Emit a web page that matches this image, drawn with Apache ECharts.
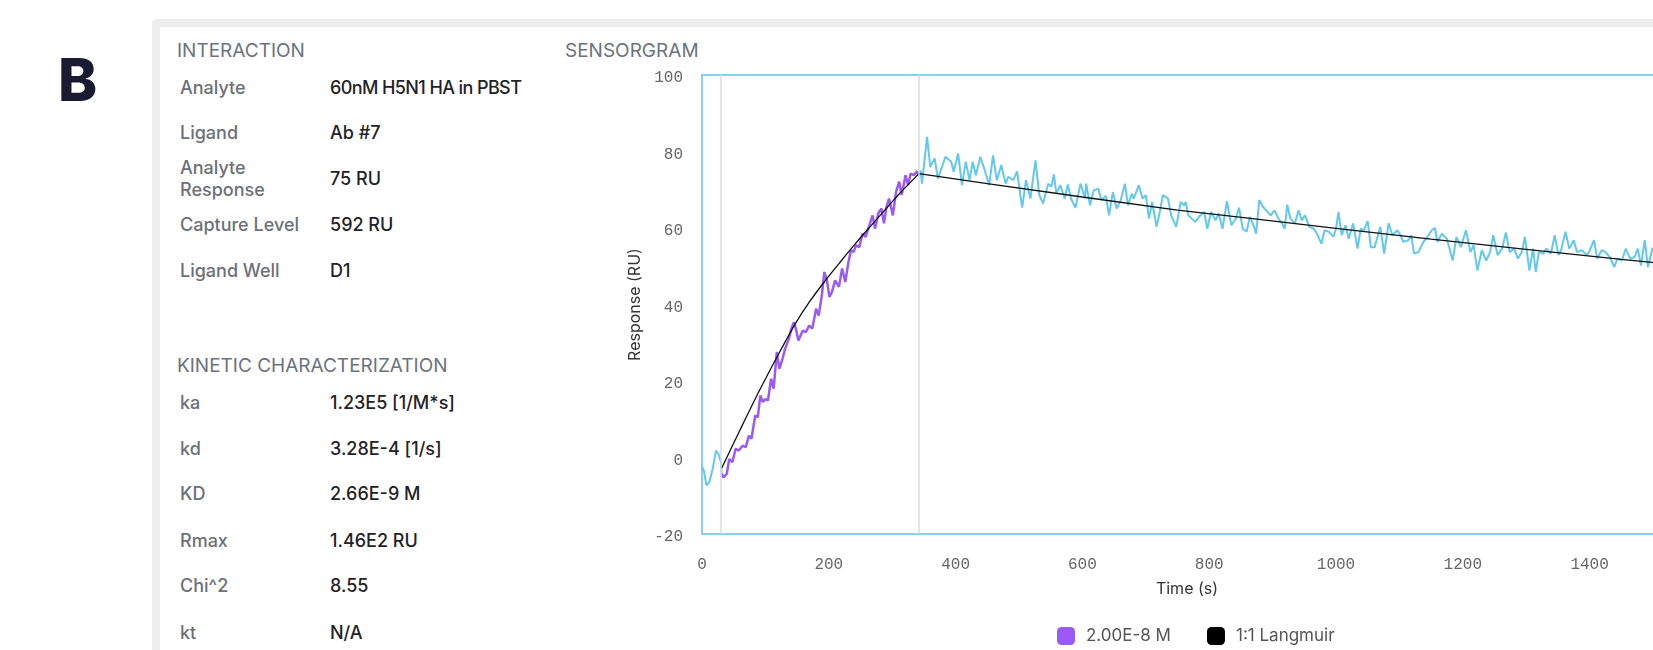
<!DOCTYPE html>
<html>
<head>
<meta charset="utf-8">
<script src="https://cdn.jsdelivr.net/npm/echarts@6/dist/echarts.min.js"></script>
<style>
  html, body { margin: 0; padding: 0; overflow: hidden; background: #ffffff; }
  body { width: 1653px; height: 650px; position: relative; font-family: Inter, "Noto Sans", sans-serif; }
  .panel-letter { position: absolute; left: 58px; top: 40px; font-size: 59px; font-weight: 800; color: #1b1a33; line-height: 80px; }
  .card { position: absolute; left: 152px; top: 19px; width: 1700px; height: 800px; box-sizing: border-box; border: 8px solid #eeeeee; border-radius: 5px; }
  .head { position: absolute; font-size: 19px; color: #6b7280; line-height: 23px; white-space: nowrap; }
  .lbl { position: absolute; left: 180px; font-size: 18px; font-weight: 500; color: #6b7079; line-height: 22px; white-space: nowrap; }
  .val { position: absolute; left: 330px; font-size: 18px; font-weight: 500; color: #1f2328; line-height: 22px; white-space: nowrap; }
  .val.tight { letter-spacing: -0.6px; }
  #chart { position: absolute; left: 0; top: 0; width: 1800px; height: 650px; }
</style>
</head>
<body>
<div class="panel-letter">B</div>
<div class="card"></div>
<div id="panel"></div>
<div id="chart"></div>
<script>
/* ------------------------------------------------------------------ */
/*  Data                                                               */
/* ------------------------------------------------------------------ */

/** Interaction table rows [label, value] */
const interactionRows = [
  ['Analyte', '60nM H5N1 HA in PBST'],
  ['Ligand', 'Ab #7'],
  ['Analyte<br>Response', '75 RU'],
  ['Capture Level', '592 RU'],
  ['Ligand Well', 'D1']
];
const interactionRowY = [88, 133, 179, 225, 271];

/** Kinetic characterization rows [label, value] */
const kineticRows = [
  ['ka', '1.23E5 [1/M*s]'],
  ['kd', '3.28E-4 [1/s]'],
  ['KD', '2.66E-9 M'],
  ['Rmax', '1.46E2 RU'],
  ['Chi^2', '8.55'],
  ['kt', 'N/A']
];
const kineticRowY = [403, 449, 494, 541, 586, 633];

/** Phase boundaries (s) */
const phaseMarks = [30, 342];

/** Baseline before injection [time, RU] */
const baselineTrace = [
  [0, -2.4], [3, -3.5], [7, -7.3], [11.6, -6.4], [16.8, -3], [22, 1.8], [26, 0.9], [30, -1.2], [31, -4.3]
];

/** Association phase, 2.00E-8 M [time, RU] */
const associationTrace = [
  [31, -4.3], [34, -5.2], [39, -4.3], [43, -0.4], [48, -1.2], [53, 2.3], [58, 1.8], [64, 3.1], [69, 2.7],
  [74, 5.7], [78, 4.9], [84, 11], [88, 10.5], [92, 16.2], [96, 14.5], [100, 15.3], [104, 14.9], [109, 20.6],
  [113, 18], [118, 27.6], [122, 23.2], [127, 25.8], [131, 28.4], [137, 31], [141, 33.7], [145, 35.4],
  [148, 33.7], [152, 30.6], [159, 33.2], [164, 32.8], [169, 34.5], [174, 33.7], [180, 38.9], [184, 37.1],
  [189, 42.4], [193, 48.5], [197, 46.3], [201, 42], [205, 43.3], [210, 46.3], [216, 44.6], [221, 49.4],
  [226, 45.9], [231, 51.1], [235, 54.2], [239, 53.7], [243, 55.5], [248, 55], [253, 58.5], [258, 57.7],
  [264, 60.7], [269, 63.3], [273, 59.8], [278, 63.8], [283, 65.1], [287, 61.2], [291, 65.5], [295, 67.7],
  [301, 63.3], [306, 69.4], [311, 72.1], [315, 68.6], [321, 73.8], [325, 71.2], [329, 74.2], [334, 73.8],
  [339, 74.8], [342, 73.8]
];

/** Dissociation phase [time, RU] */
const dissociationTrace = [
  [342, 73.8], [345, 75], [347, 71.6], [355, 83.8], [360, 76], [367, 78.2], [372, 72.9], [384, 78.6],
  [393, 77.3], [397, 74.7], [404, 79.5], [410, 71.2], [416, 77.3], [422, 72.5], [427, 77.3], [432, 73.8],
  [439, 78.6], [446, 75.1], [453, 71.2], [459, 79], [465, 72.5], [472, 76.4], [479, 71.6], [483, 73.4],
  [491, 72.5], [497, 74.8], [505, 65.3], [511, 72.5], [518, 67.7], [526, 77.7], [532, 68.6], [538, 66.4],
  [546, 71.6], [551, 70.8], [555, 74], [559, 69], [565, 71.2], [572, 67.7], [577, 71.4], [582, 67.7],
  [589, 65.3], [597, 71.6], [604, 67.7], [606, 71.6], [612, 65.9], [618, 69.9], [625, 70.3], [630, 67.3],
  [637, 68.4], [642, 63.3], [648, 69.4], [654, 65.1], [660, 67], [667, 71.6], [672, 65.9], [678, 69],
  [681, 67.7], [689, 71.2], [695, 67.7], [700, 68.6], [705, 62.5], [710, 66.8], [717, 60.3], [722, 64.2],
  [727, 68.6], [735, 67.7], [740, 63.3], [748, 60.3], [755, 66.8], [760, 65.9], [763, 66.8], [767, 63.3],
  [778, 61.6], [786, 63.3], [792, 64.2], [797, 59.8], [803, 64.2], [810, 62], [815, 63.8], [821, 59.8],
  [828, 67], [835, 60.7], [842, 62.5], [847, 65.3], [853, 59.8], [859, 59], [864, 62.9], [870, 60.7],
  [874, 58.5], [879, 67.3], [885, 65.5], [892, 64.2], [897, 63.3], [903, 64.6], [909, 62.5], [915, 61.2],
  [919, 59.8], [923, 66.1], [928, 62.5], [935, 61.2], [941, 64.6], [946, 62], [951, 63.3], [958, 60.3],
  [965, 59.8], [970, 58.5], [977, 55.9], [982, 59.4], [989, 59], [996, 57.7], [1000, 59.8], [1004, 64.2],
  [1009, 58.1], [1015, 60.7], [1020, 57.2], [1027, 61.2], [1034, 54.6], [1039, 59.8], [1044, 59.4],
  [1050, 61.8], [1055, 55], [1061, 55], [1070, 60.3], [1076, 53.3], [1083, 61.2], [1089, 58.1],
  [1097, 59.4], [1103, 57.7], [1106, 56.4], [1114, 56.8], [1119, 58.1], [1123, 53.3], [1130, 53.7],
  [1138, 56.4], [1146, 58.1], [1151, 59.4], [1156, 60], [1160, 56.4], [1167, 58.5], [1175, 57.2],
  [1184, 51.5], [1190, 57.7], [1197, 55], [1205, 59.4], [1212, 53.7], [1217, 55.5], [1223, 48.9],
  [1230, 54.2], [1237, 51.5], [1243, 53.7], [1248, 58.1], [1255, 52.9], [1262, 54.6], [1268, 58.8],
  [1274, 53.7], [1281, 54.6], [1287, 52], [1293, 53.7], [1298, 57.7], [1305, 48.9], [1311, 54.6],
  [1315, 48.5], [1320, 53.7], [1327, 53.3], [1332, 54.6], [1339, 53.3], [1345, 58.1], [1351, 52.9],
  [1355, 54.2], [1362, 59], [1368, 54.6], [1375, 56.8], [1380, 53.7], [1388, 54.2], [1395, 52.9],
  [1399, 53.7], [1407, 56.8], [1412, 52], [1419, 54.2], [1425, 53.7], [1432, 52.4], [1439, 49.8],
  [1444, 52], [1451, 51.5], [1457, 54.6], [1464, 52], [1471, 52.4], [1476, 54.6], [1481, 50.2],
  [1487, 56.8], [1492, 49.8], [1499, 54.6], [1504, 55], [1510, 51.5], [1517, 53.3], [1524, 50.8], [1530, 52]
];

/** 1:1 Langmuir fit, association and dissociation [time, RU] */
const fitAssociation = [
  [31, -2.8], [60, 7.2], [90, 17.3], [120, 26.8], [148, 35.2], [170, 40.8], [197, 46.8], [220, 51.5],
  [242, 55.9], [265, 60.3], [281, 63.3], [298, 66.5], [312, 69.1], [328, 71.8], [342, 74.2]
];
const fitDissociation = [
  [342, 74.2], [450, 71.6], [600, 68.1], [750, 64.7], [865, 62.5], [1000, 59.9], [1150, 57.1],
  [1300, 54.4], [1450, 51.8], [1530, 50.5]
];

const legendNames = ['2.00E-8 M', '1:1 Langmuir'];

/* ------------------------------------------------------------------ */
/*  Left panel                                                         */
/* ------------------------------------------------------------------ */

const panel = document.getElementById('panel');

/**
 * Adds one absolutely positioned text node, vertically centred on y
 * @param {string} cls
 * @param {string} html
 * @param {number|null} x - left edge, or null to keep the class value
 * @param {number} y
 */
function addText(cls, html, x, y) {
  const el = document.createElement('div');
  el.className = cls;
  el.innerHTML = html;
  if (x !== null) el.style.left = x + 'px';
  panel.appendChild(el);
  el.style.top = (y - el.offsetHeight / 2) + 'px';
}

addText('head', 'INTERACTION', 177, 50);
addText('head', 'SENSORGRAM', 565, 50);
addText('head', 'KINETIC CHARACTERIZATION', 177, 365);

interactionRows.forEach(([label, value], i) => {
  addText('lbl', label, null, interactionRowY[i]);
  /* the long analyte description is set a little tighter in the source */
  addText(value.length > 16 ? 'val tight' : 'val', value, null, interactionRowY[i]);
});
kineticRows.forEach(([label, value], i) => {
  addText('lbl', label, null, kineticRowY[i]);
  addText('val', value, null, kineticRowY[i]);
});

/* ------------------------------------------------------------------ */
/*  Sensorgram                                                         */
/* ------------------------------------------------------------------ */

const CYAN = '#62c8ec';
const PURPLE = '#9b59f5';
const BORDER = '#86d2e6';
const tickFont = {
  fontFamily: '"Liberation Mono", "DejaVu Sans Mono", monospace',
  fontSize: 16,
  color: '#666666',
  formatter: (v) => String(v)
};

const chart = echarts.init(document.getElementById('chart'), null, { renderer: 'canvas' });

chart.setOption({
  animation: false,
  grid: {
    left: 702, top: 75, width: 970, height: 459,
    show: true, borderColor: BORDER, borderWidth: 2, backgroundColor: 'transparent'
  },
  legend: {
    data: legendNames,
    left: 1052,
    top: 622,
    icon: 'roundRect',
    itemWidth: 18,
    itemHeight: 18,
    itemGap: 36,
    textStyle: { fontFamily: 'Inter, sans-serif', fontSize: 17, color: '#555555', padding: [0, 0, 0, 6] }
  },
  xAxis: {
    type: 'value',
    min: 0,
    max: 1530,
    interval: 200,
    name: 'Time (s)',
    nameLocation: 'middle',
    nameGap: 47,
    nameTextStyle: { fontFamily: 'Inter, sans-serif', fontSize: 16, color: '#333333' },
    axisLine: { show: false },
    axisTick: { show: false },
    splitLine: { show: false },
    axisLabel: { ...tickFont, margin: 23, showMaxLabel: false }
  },
  yAxis: {
    type: 'value',
    min: -20,
    max: 100,
    interval: 20,
    name: 'Response (RU)',
    nameLocation: 'middle',
    nameGap: 58,
    nameTextStyle: { fontFamily: 'Inter, sans-serif', fontSize: 16, color: '#333333' },
    axisLine: { show: false },
    axisTick: { show: false },
    splitLine: { show: false },
    axisLabel: { ...tickFont, margin: 19, verticalAlign: 'top', lineHeight: 6 }
  },
  series: [
    {
      name: 'baseline',
      type: 'line',
      data: baselineTrace,
      showSymbol: false,
      lineStyle: { color: CYAN, width: 2 },
      markLine: {
        silent: true,
        symbol: 'none',
        label: { show: false },
        lineStyle: { color: '#d6dae0', width: 1.5, type: 'solid' },
        data: phaseMarks.map((t) => ({ xAxis: t }))
      },
      z: 2
    },
    {
      name: legendNames[0],
      type: 'line',
      data: associationTrace,
      showSymbol: false,
      itemStyle: { color: PURPLE },
      lineStyle: { color: PURPLE, width: 2.5 },
      z: 3
    },
    {
      name: 'dissociation',
      type: 'line',
      data: dissociationTrace,
      showSymbol: false,
      lineStyle: { color: CYAN, width: 2 },
      z: 2
    },
    {
      name: legendNames[1],
      type: 'line',
      data: fitAssociation,
      showSymbol: false,
      smooth: 0.3,
      itemStyle: { color: '#000000' },
      lineStyle: { color: '#111111', width: 1.3 },
      z: 4
    },
    {
      name: legendNames[1],
      type: 'line',
      data: fitDissociation,
      showSymbol: false,
      itemStyle: { color: '#000000' },
      lineStyle: { color: '#111111', width: 1.3 },
      z: 4
    }
  ]
});
</script>
</body>
</html>
